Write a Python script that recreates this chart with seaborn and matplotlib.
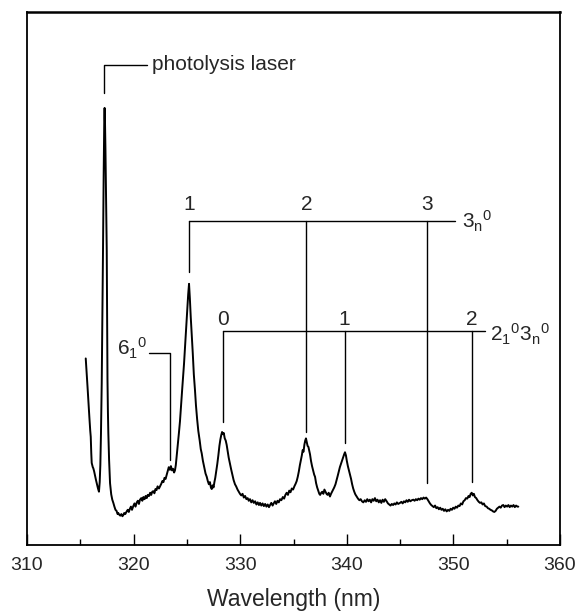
import matplotlib
matplotlib.use("Agg")
import matplotlib.pyplot as plt
import seaborn as sns
import pandas as pd
from matplotlib.ticker import MultipleLocator

# ---------------- data ----------------
wavelength = [
    315.51, 315.60, 315.68, 315.75, 315.85, 315.93, 315.98, 316.03, 316.07, 316.12,
    316.17, 316.22, 316.30, 316.38, 316.47, 316.56, 316.66, 316.75, 316.82, 316.88,
    316.94, 317.01, 317.07, 317.13, 317.19, 317.25, 317.28, 317.32, 317.36, 317.42,
    317.48, 317.52, 317.55, 317.59, 317.63, 317.70, 317.79, 317.90, 318.00, 318.10,
    318.20, 318.30, 318.40, 318.50, 318.56, 318.65, 318.75, 318.85, 318.95, 319.03,
    319.12, 319.22, 319.35, 319.45, 319.55, 319.65, 319.75, 319.85, 319.97, 320.08,
    320.18, 320.30, 320.40, 320.50, 320.60, 320.72, 320.82, 320.92, 321.03, 321.13,
    321.23, 321.33, 321.45, 321.55, 321.65, 321.75, 321.85, 321.95, 322.05, 322.15,
    322.25, 322.38, 322.48, 322.60, 322.70, 322.80, 322.90, 323.00, 323.11, 323.20,
    323.30, 323.41, 323.50, 323.60, 323.70, 323.80, 323.88, 323.96, 324.04, 324.15,
    324.25, 324.35, 324.45, 324.55, 324.65, 324.73, 324.82, 324.92, 325.04, 325.12,
    325.20, 325.28, 325.36, 325.45, 325.55, 325.65, 325.76, 325.85, 325.96, 326.07,
    326.20, 326.30, 326.39, 326.50, 326.62, 326.75, 326.86, 326.96, 327.06, 327.16,
    327.25, 327.33, 327.42, 327.50, 327.58, 327.66, 327.75, 327.85, 327.95, 328.05,
    328.14, 328.22, 328.30, 328.38, 328.46, 328.55, 328.64, 328.73, 328.82, 328.92,
    329.04, 329.15, 329.26, 329.38, 329.51, 329.62, 329.75, 329.86, 329.98, 330.10,
    330.22, 330.34, 330.46, 330.58, 330.70, 330.80, 330.92, 331.04, 331.16, 331.28,
    331.40, 331.52, 331.64, 331.76, 331.86, 331.98, 332.10, 332.22, 332.34, 332.46,
    332.58, 332.70, 332.80, 332.92, 333.04, 333.14, 333.26, 333.38, 333.50, 333.62,
    333.74, 333.86, 334.00, 334.12, 334.24, 334.36, 334.48, 334.60, 334.72, 334.84,
    334.96, 335.08, 335.20, 335.30, 335.40, 335.50, 335.60, 335.70, 335.78, 335.86,
    335.94, 336.02, 336.10, 336.17, 336.25, 336.32, 336.40, 336.48, 336.55, 336.64,
    336.74, 336.84, 336.94, 337.02, 337.12, 337.22, 337.32, 337.42, 337.50, 337.60,
    337.70, 337.80, 337.90, 338.00, 338.10, 338.20, 338.30, 338.42, 338.52, 338.62,
    338.72, 338.82, 338.94, 339.05, 339.15, 339.25, 339.35, 339.45, 339.55, 339.65,
    339.75, 339.83, 339.92, 340.00, 340.10, 340.20, 340.30, 340.40, 340.50, 340.60,
    340.70, 340.80, 340.93, 341.05, 341.18, 341.30, 341.42, 341.55, 341.68, 341.80,
    341.92, 342.04, 342.16, 342.28, 342.40, 342.52, 342.64, 342.76, 342.88, 343.00,
    343.12, 343.24, 343.36, 343.48, 343.60, 343.74, 343.86, 343.98, 344.10, 344.22,
    344.34, 344.46, 344.58, 344.70, 344.82, 344.99, 345.12, 345.24, 345.36, 345.48,
    345.60, 345.72, 345.84, 345.96, 346.10, 346.24, 346.36, 346.48, 346.60, 346.72,
    346.84, 346.96, 347.08, 347.20, 347.32, 347.44, 347.56, 347.68, 347.80, 347.92,
    348.04, 348.16, 348.28, 348.40, 348.52, 348.64, 348.76, 348.88, 349.00, 349.12,
    349.24, 349.37, 349.50, 349.62, 349.74, 349.86, 349.98, 350.10, 350.22, 350.34,
    350.46, 350.58, 350.70, 350.82, 350.94, 351.06, 351.18, 351.30, 351.42, 351.52,
    351.62, 351.72, 351.82, 351.92, 352.02, 352.14, 352.26, 352.38, 352.50, 352.62,
    352.74, 352.86, 352.98, 353.12, 353.24, 353.36, 353.48, 353.60, 353.72, 353.84,
    353.96, 354.08, 354.20, 354.32, 354.44, 354.56, 354.68, 354.80, 354.92, 355.04,
    355.16, 355.28, 355.40, 355.52, 355.64, 355.76, 355.88, 356.00, 356.09,
]
intensity = [
    0.350, 0.322, 0.296, 0.272, 0.240, 0.215, 0.203, 0.172, 0.154, 0.150,
    0.146, 0.144, 0.138, 0.130, 0.122, 0.114, 0.106, 0.100, 0.118, 0.150,
    0.210, 0.304, 0.420, 0.553, 0.690, 0.800, 0.820, 0.790, 0.741, 0.650,
    0.553, 0.420, 0.310, 0.250, 0.210, 0.160, 0.116, 0.095, 0.085, 0.079,
    0.072, 0.066, 0.064, 0.058, 0.060, 0.057, 0.055, 0.058, 0.054, 0.056,
    0.060, 0.058, 0.063, 0.066, 0.062, 0.068, 0.072, 0.066, 0.073, 0.078,
    0.072, 0.080, 0.083, 0.077, 0.085, 0.088, 0.083, 0.090, 0.086, 0.092,
    0.088, 0.094, 0.092, 0.098, 0.094, 0.100, 0.101, 0.097, 0.105, 0.103,
    0.110, 0.106, 0.110, 0.115, 0.120, 0.118, 0.126, 0.124, 0.132, 0.138,
    0.146, 0.141, 0.148, 0.140, 0.143, 0.136, 0.140, 0.150, 0.166, 0.190,
    0.210, 0.232, 0.262, 0.290, 0.318, 0.340, 0.370, 0.405, 0.445, 0.470,
    0.490, 0.462, 0.428, 0.396, 0.360, 0.320, 0.290, 0.262, 0.236, 0.214,
    0.196, 0.180, 0.172, 0.158, 0.146, 0.134, 0.128, 0.120, 0.114, 0.118,
    0.108, 0.105, 0.112, 0.108, 0.118, 0.126, 0.138, 0.152, 0.168, 0.186,
    0.198, 0.206, 0.212, 0.208, 0.210, 0.200, 0.196, 0.188, 0.176, 0.164,
    0.152, 0.142, 0.132, 0.122, 0.114, 0.110, 0.104, 0.100, 0.096, 0.093,
    0.096, 0.089, 0.092, 0.086, 0.088, 0.083, 0.086, 0.080, 0.084, 0.079,
    0.082, 0.076, 0.080, 0.075, 0.079, 0.074, 0.078, 0.073, 0.077, 0.072,
    0.076, 0.071, 0.075, 0.079, 0.074, 0.078, 0.082, 0.077, 0.083, 0.080,
    0.086, 0.084, 0.090, 0.087, 0.094, 0.098, 0.094, 0.102, 0.099, 0.106,
    0.104, 0.110, 0.115, 0.120, 0.128, 0.138, 0.150, 0.160, 0.168, 0.178,
    0.175, 0.188, 0.196, 0.200, 0.192, 0.186, 0.184, 0.176, 0.170, 0.158,
    0.148, 0.140, 0.132, 0.128, 0.116, 0.108, 0.102, 0.096, 0.094, 0.098,
    0.100, 0.096, 0.104, 0.100, 0.096, 0.094, 0.098, 0.091, 0.096, 0.100,
    0.104, 0.108, 0.114, 0.122, 0.130, 0.138, 0.146, 0.152, 0.158, 0.164,
    0.170, 0.174, 0.168, 0.158, 0.148, 0.140, 0.132, 0.124, 0.114, 0.106,
    0.100, 0.095, 0.091, 0.087, 0.084, 0.086, 0.082, 0.080, 0.084, 0.081,
    0.086, 0.082, 0.085, 0.080, 0.086, 0.083, 0.088, 0.082, 0.085, 0.080,
    0.084, 0.079, 0.085, 0.081, 0.086, 0.082, 0.078, 0.076, 0.074, 0.077,
    0.075, 0.078, 0.076, 0.080, 0.077, 0.079, 0.081, 0.078, 0.082, 0.080,
    0.084, 0.081, 0.085, 0.082, 0.084, 0.085, 0.083, 0.086, 0.084, 0.087,
    0.085, 0.088, 0.086, 0.089, 0.087, 0.089, 0.086, 0.082, 0.078, 0.075,
    0.073, 0.071, 0.074, 0.069, 0.071, 0.067, 0.070, 0.066, 0.068, 0.064,
    0.067, 0.063, 0.066, 0.064, 0.068, 0.066, 0.070, 0.068, 0.072, 0.070,
    0.074, 0.073, 0.078, 0.076, 0.082, 0.084, 0.088, 0.087, 0.092, 0.090,
    0.096, 0.098, 0.093, 0.096, 0.090, 0.088, 0.084, 0.081, 0.079, 0.080,
    0.076, 0.078, 0.073, 0.072, 0.069, 0.068, 0.066, 0.065, 0.063, 0.062,
    0.064, 0.068, 0.070, 0.072, 0.070, 0.074, 0.075, 0.071, 0.074, 0.072,
    0.075, 0.071, 0.074, 0.072, 0.075, 0.071, 0.074, 0.072, 0.072,
]

# progression assignments (peak wavelengths, nm)
prog3_labels = ["1", "2", "3"]
prog3_peaks = [325.2, 336.2, 347.5]
prog3_tips = [0.512, 0.212, 0.116]

prog213_labels = ["0", "1", "2"]
prog213_peaks = [328.4, 339.8, 351.7]
prog213_tips = [0.231, 0.191, 0.118]

laser_peak = 317.22
band61_peak = 323.41

x_ticks = [310, 320, 330, 340, 350, 360]

# ---------------- style ----------------
sns.set_theme(style="white")
plt.rcParams["font.family"] = ["Liberation Sans", "DejaVu Sans"]
plt.rcParams["mathtext.default"] = "regular"

fig = plt.figure(figsize=(5.77, 6.11), dpi=100)
ax = fig.add_axes([27 / 577, 1 - 545 / 611, (560 - 27) / 577, (545 - 12) / 611])

df = pd.DataFrame({"wl": wavelength, "I": intensity})
sns.lineplot(data=df, x="wl", y="I", ax=ax, color="black", lw=1.4,
             sort=False, estimator=None)

ax.set_xlim(310, 360)
ax.set_ylim(0, 1)
ax.set_xticks(x_ticks)
ax.xaxis.set_minor_locator(MultipleLocator(5))
ax.set_yticks([])
ax.tick_params(axis="x", which="major", direction="in", length=8, width=1.0,
               labelsize=14, pad=9, color="black", bottom=True)
ax.tick_params(axis="x", which="minor", direction="in", length=4.5, width=1.0,
               color="black", bottom=True)
ax.set_xlabel("Wavelength (nm)", fontsize=16.5, labelpad=10)
ax.set_ylabel("")
for s in ax.spines.values():
    s.set_color("black")
    s.set_linewidth(1.3)
ax.spines["top"].set_linewidth(1.8)

lk = dict(color="black", lw=1.0)

# 3_n^0 progression
y3 = 0.608
ax.plot([prog3_peaks[0], 350.15], [y3, y3], **lk)
for lab, xp, tip in zip(prog3_labels, prog3_peaks, prog3_tips):
    ax.plot([xp, xp], [y3, tip], **lk)
    ax.text(xp, y3 + 0.03, lab, ha="center", va="center", fontsize=15)
ax.text(350.8, y3, r"$3_n{}^{0}$", ha="left", va="center", fontsize=15)

# 2_1^0 3_n^0 progression
y2 = 0.401
ax.plot([prog213_peaks[0], 352.96], [y2, y2], **lk)
for lab, xp, tip in zip(prog213_labels, prog213_peaks, prog213_tips):
    ax.plot([xp, xp], [y2, tip], **lk)
    ax.text(xp, y2 + 0.022, lab, ha="center", va="center", fontsize=15)
ax.text(353.4, y2 - 0.005, r"$2_1{}^{0}3_n{}^{0}$", ha="left", va="center", fontsize=15)

# 6_1^0
y6 = 0.360
ax.plot([321.44, band61_peak, band61_peak], [y6, y6, 0.159], **lk)
ax.text(321.3, y6 + 0.008, r"$6_1{}^{0}$", ha="right", va="center", fontsize=15)

# photolysis laser
yl = 0.901
ax.plot([laser_peak, laser_peak, 321.26], [0.848, yl, yl], **lk)
ax.text(321.75, yl, "photolysis laser", ha="left", va="center", fontsize=15)

fig.savefig("out.png", dpi=100)
